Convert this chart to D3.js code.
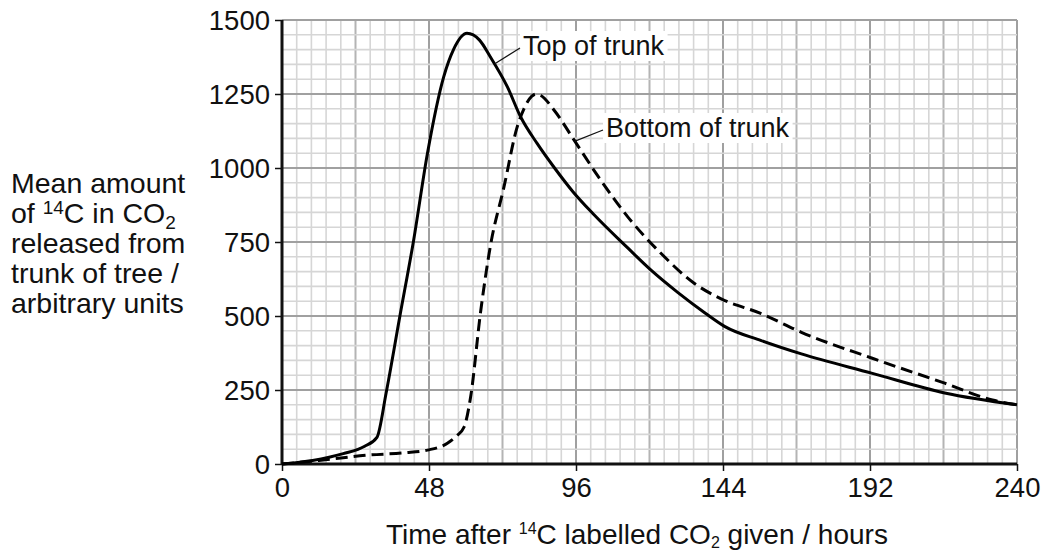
<!DOCTYPE html>
<html>
<head>
<meta charset="utf-8">
<script src="https://cdn.jsdelivr.net/npm/d3@7"></script>
<style>
  body { margin: 0; background: #fff; }
  text { font-family: "Liberation Sans", Arial, sans-serif; fill: #111; }
</style>
</head>
<body>
<script>
var width = 1049;
var height = 551;

var topHours = [0, 10, 20, 27, 31, 34, 38.5, 43, 47.5, 52.8, 56, 60.4, 64.5, 68, 73.6, 77.9, 83.3, 89, 95, 101.9, 112.9, 120.5, 129.2, 137.9, 144.5, 156.5, 169.6, 192.5, 216.4, 240];
var topValues = [0, 12, 35, 60, 90, 240, 500, 757, 1050, 1308, 1400, 1455, 1432, 1376, 1274, 1173, 1083, 1000, 920, 842, 730, 655, 580, 512, 465, 417, 372, 307, 240, 200];

var bottomHours = [0, 12, 28, 40, 47.5, 54, 57, 59.5, 61.6, 64.8, 68, 72.5, 76.8, 79, 81.5, 83, 84.5, 88.8, 95.4, 103, 112.9, 123.8, 134.8, 143.4, 156.5, 169.6, 192.5, 216.4, 232, 240];
var bottomValues = [0, 12, 30, 38, 47, 70, 95, 126, 227, 510, 734, 937, 1139, 1200, 1242, 1250, 1245, 1196, 1094, 975, 835, 711, 609, 558, 508, 445, 358, 273, 216, 200];

var xTicks = [0, 48, 96, 144, 192, 240];
var yTicks = [0, 250, 500, 750, 1000, 1250, 1500];

var yLabelLines = ["Mean amount", "of 14C in CO2", "released from", "trunk of tree /", "arbitrary units"];

var margin = {left: 282, right: 32, top: 20, bottom: 87};

var x = d3.scaleLinear().domain([0, 240]).range([margin.left, width - margin.right]);
var y = d3.scaleLinear().domain([0, 1500]).range([height - margin.bottom, margin.top]);

var svg = d3.select("body").append("svg")
  .attr("width", width)
  .attr("height", height);

// grid: minor every 4.8 h / 50 units, medium every 24 h, major every 48 h / 250 units
var vMinor = d3.range(0, 240.01, 4.8);
var hMinor = d3.range(0, 1500.01, 50);

svg.append("g").selectAll("line")
  .data(vMinor)
  .enter().append("line")
  .attr("x1", function(d) { return x(d); })
  .attr("x2", function(d) { return x(d); })
  .attr("y1", y(0))
  .attr("y2", y(1500))
  .style("stroke", function(d, k) { return k % 10 == 0 ? "#a0a0a0" : (k % 5 == 0 ? "#b4b4b4" : "#d6d6d6"); })
  .style("stroke-width", function(d, k) { return k % 5 == 0 ? 2 : 1.6; });

svg.append("g").selectAll("line")
  .data(hMinor)
  .enter().append("line")
  .attr("x1", x(0))
  .attr("x2", x(240))
  .attr("y1", function(d) { return y(d); })
  .attr("y2", function(d) { return y(d); })
  .style("stroke", function(d, k) { return k % 5 == 0 ? "#a0a0a0" : "#d6d6d6"; })
  .style("stroke-width", function(d, k) { return k % 5 == 0 ? 2 : 1.6; });

// axes
var xAxis = svg.append("g")
  .attr("transform", "translate(0," + y(0) + ")")
  .call(d3.axisBottom(x).tickValues(xTicks).tickFormat(d3.format("d")).tickSize(7).tickPadding(6));
var yAxis = svg.append("g")
  .attr("transform", "translate(" + x(0) + ",0)")
  .call(d3.axisLeft(y).tickValues(yTicks).tickFormat(d3.format("d")).tickSize(7).tickPadding(5));

[xAxis, yAxis].forEach(function(a) {
  a.select(".domain").style("stroke", "#111").style("stroke-width", 3);
  a.selectAll(".tick line").style("stroke", "#111").style("stroke-width", 1.5);
  a.selectAll(".tick text").style("font-size", "27.5px").style("fill", "#111");
});
xAxis.select(".domain").attr("d", "M" + x(0) + ",0H" + x(240));
yAxis.select(".domain").attr("d", "M0," + y(0) + "V" + y(1500));
yAxis.selectAll(".tick text").attr("dy", "0.36em");
xAxis.selectAll(".tick text").attr("dy", "0.72em");

// curves
var line = d3.line()
  .x(function(d) { return x(d[0]); })
  .y(function(d) { return y(d[1]); })
  .curve(d3.curveMonotoneX);

svg.append("path")
  .datum(d3.zip(topHours, topValues))
  .attr("d", line)
  .style("fill", "none")
  .style("stroke", "#000")
  .style("stroke-width", 3);

svg.append("path")
  .datum(d3.zip(bottomHours, bottomValues))
  .attr("d", line)
  .style("fill", "none")
  .style("stroke", "#000")
  .style("stroke-width", 3)
  .style("stroke-dasharray", "12,6");

// labels with leader lines
function label(t, v, tx, ty, txt) {
  var g = svg.append("g");
  var bg = g.append("rect").style("fill", "#fff");
  var txtEl = g.append("text")
    .attr("x", tx).attr("y", ty)
    .style("font-size", "27px")
    .text(txt);
  var bb = txtEl.node().getBBox();
  bg.attr("x", bb.x - 3).attr("y", bb.y)
    .attr("width", bb.width + 6).attr("height", bb.height);
  g.append("line")
    .attr("x1", x(t)).attr("y1", y(v))
    .attr("x2", tx - 3).attr("y2", ty - 7)
    .style("stroke", "#111")
    .style("stroke-width", 1.2);
}
label(69.5, 1352, 523, 55, "Top of trunk");
label(95.5, 1090, 606, 137, "Bottom of trunk");

// y axis title, one text per line
yLabelLines.forEach(function(s, i) {
  var t = svg.append("text")
    .attr("x", 11)
    .attr("y", 193 + i * 30)
    .style("font-size", "28.5px");
  if (s.indexOf("14C") >= 0) {
    t.append("tspan").text("of ");
    t.append("tspan").attr("dy", -9).style("font-size", "19px").text("14");
    t.append("tspan").attr("dy", 9).text("C in CO");
    t.append("tspan").attr("dy", 6).style("font-size", "19px").text("2");
  } else {
    t.text(s);
  }
});

// x axis title
var xTitle = svg.append("text")
  .attr("x", 386)
  .attr("y", 544)
  .style("font-size", "28px");
xTitle.append("tspan").text("Time after ");
xTitle.append("tspan").attr("dy", -10).style("font-size", "16px").text("14");
xTitle.append("tspan").attr("dy", 10).text("C labelled CO");
xTitle.append("tspan").attr("dy", 4).style("font-size", "16px").text("2");
xTitle.append("tspan").attr("dy", -4).text(" given / hours");
</script>
</body>
</html>
